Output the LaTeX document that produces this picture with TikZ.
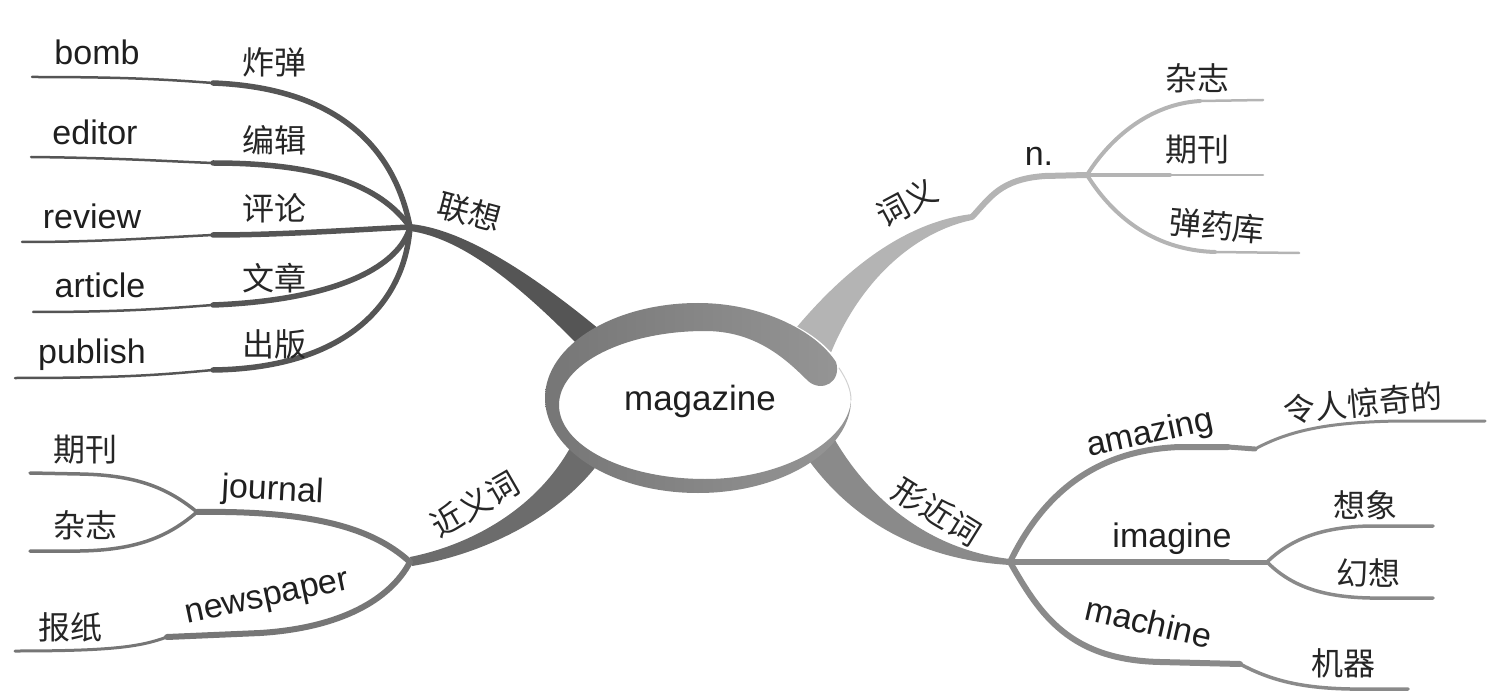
\documentclass[tikz,border=0pt]{standalone}
\usepackage{fontspec}
\setmainfont{Liberation Sans}
\newfontfamily\cjk{Noto Sans CJK SC}
\usepackage{tikz}
\usetikzlibrary{calc}
\definecolor{assocGray}{RGB}{85,85,85}
\definecolor{meanGray}{RGB}{180,180,180}
\definecolor{synGray}{RGB}{108,108,108}
\definecolor{synTwig}{RGB}{118,118,118}
\definecolor{formGray}{RGB}{138,138,138}
\definecolor{ringDark}{RGB}{118,118,118}
\definecolor{ringLight}{RGB}{150,150,150}

\begin{document}
\begin{tikzpicture}[x=1pt, y=-1pt, line cap=round,
    en/.style={font=\fontsize{34}{40}\selectfont, text=black!88},
    zh/.style={font=\cjk\fontsize{32}{38}\selectfont, text=black!85},
    twig/.style={line width=5.5},
    twigend/.style={line width=2.5}]
    \useasboundingbox (0,0) rectangle (1498,700);
    % hubs
    \coordinate (assoc) at (410,227);
    \coordinate (mean) at (972,217);
    \coordinate (noun) at (1087,175);
    \coordinate (syn) at (410,562);
    \coordinate (jour) at (197,512);
    \coordinate (form) at (1010,562);
    \coordinate (imag) at (1267,562);

    % main trunks
    \fill[assocGray] ($(assoc)+(0,-3)$) .. controls (455,228) and (520,262) .. (612,340) -- (585,352) .. controls (515,280) and (460,238) .. ($(assoc)+(0,4)$) -- cycle;
    \fill[meanGray] (780,348) .. controls (840,270) and (905,222) .. ($(mean)+(0,-3)$) -- ($(mean)+(0,3)$) .. controls (915,232) and (860,280) .. (830,355) -- cycle;
    \fill[synGray] ($(syn)+(0,-5)$) .. controls (470,545) and (535,510) .. (570,448) -- (598,464) .. controls (555,520) and (480,555) .. ($(syn)+(2,4)$) -- cycle;
    \fill[formGray] (835,440) .. controls (870,500) and (930,550) .. ($(form)+(0,-3)$) -- ($(form)+(0,3)$) .. controls (920,560) and (850,520) .. (805,455) -- cycle;

    % lianxiang twigs
    \draw[assocGray, twig] (assoc) .. controls (395,150) and (340,88) .. (213,83) coordinate (bombS);
    \draw[assocGray, twigend] (bombS) .. controls (160,79) and (120,77) .. (32,77) coordinate (bombE);
    \draw[assocGray, twig] (assoc) .. controls (380,185) and (320,163) .. (213,163) coordinate (editS);
    \draw[assocGray, twigend] (editS) .. controls (160,161) and (120,158) .. (31,157) coordinate (editE);
    \draw[assocGray, twig] (assoc) .. controls (350,230) and (280,235) .. (213,235) coordinate (revS);
    \draw[assocGray, twigend] (revS) .. controls (150,238) and (100,242) .. (22,242) coordinate (revE);
    \draw[assocGray, twig] (assoc) .. controls (400,265) and (340,300) .. (213,305) coordinate (artS);
    \draw[assocGray, twigend] (artS) .. controls (160,309) and (120,312) .. (33,312) coordinate (artE);
    \draw[assocGray, twig] (assoc) .. controls (405,300) and (350,368) .. (213,370) coordinate (pubS);
    \draw[assocGray, twigend] (pubS) .. controls (160,375) and (120,378) .. (15,378) coordinate (pubE);

    % ciyi twigs
    \draw[meanGray, line width=6] (mean) .. controls (990,198) and (1000,179) .. (1045,176) -- (noun);
    \draw[meanGray, line width=4] (noun) .. controls (1110,138) and (1150,104) .. (1200,101) coordinate (zazhiS);
    \draw[meanGray, twigend] (zazhiS) -- (1263,100);
    \draw[meanGray, line width=4] (noun) -- (1170,175) coordinate (qikanS);
    \draw[meanGray, twigend] (qikanS) -- (1263,175);
    \draw[meanGray, line width=4] (noun) .. controls (1110,212) and (1150,250) .. (1215,252) coordinate (dankuS);
    \draw[meanGray, twigend] (dankuS) -- (1299,253);

    % jinyici twigs
    \draw[synTwig, line width=6] (syn) .. controls (380,535) and (330,510) .. (jour);
    \draw[synTwig, line width=3.5] (jour) .. controls (170,490) and (140,475) .. (80,474) -- (30,473);
    \draw[synTwig, line width=3.5] (jour) .. controls (170,535) and (140,550) .. (80,551) -- (30,551);
    \draw[synTwig, line width=6] (syn) .. controls (390,600) and (340,628) .. (260,633) -- (167,637) coordinate (newsS);
    \draw[synTwig, line width=3] (newsS) .. controls (140,647) and (110,651) .. (15,651);

    % xingjinci twigs
    \draw[formGray, line width=6] (form) .. controls (1040,500) and (1090,450) .. (1180,447) -- (1228,447) coordinate (amazS);
    \draw[formGray, line width=5] (amazS) -- (1255,449) coordinate (amazT);
    \draw[formGray, line width=3] (amazT) .. controls (1290,430) and (1330,422) .. (1400,421) -- (1485,421);
    \draw[formGray, line width=6] (form) -- (1228,562) coordinate (imagS);
    \draw[formGray, line width=5] (imagS) -- (imag);
    \draw[formGray, line width=3.5] (imag) .. controls (1290,540) and (1320,527) .. (1370,526) -- (1433,526);
    \draw[formGray, line width=3.5] (imag) .. controls (1290,585) and (1320,597) .. (1370,598) -- (1433,598);
    \draw[formGray, line width=6] (form) .. controls (1040,615) and (1070,660) .. (1160,662) -- (1240,664) coordinate (machS);
    \draw[formGray, line width=3.5] (machS) .. controls (1270,680) and (1300,688) .. (1350,689) -- (1408,689);

    % centre ring
    \fill[white] (698,398) ellipse [x radius=152pt, y radius=94pt];
    \shade[left color=ringDark, right color=ringLight] (698,303) .. controls (613.5,303) and (545,345.6) .. (545,398)
        .. controls (545,450.4) and (613.5,493) .. (698,493)
        .. controls (782.5,493) and (851,450) .. (851,400)
        .. controls (849,440) and (785,479) .. (705,479)
        .. controls (624.4,479) and (559,445.8) .. (559,405)
        .. controls (559,364.2) and (624.4,331) .. (705,331)
        .. controls (755,331) and (785,358) .. (808,381)
        .. controls (822,393) and (842,382) .. (836,362)
        .. controls (815,330) and (760,303) .. (698,303) -- cycle;
    \draw[black!18, line width=1] (839,368) .. controls (847,380) and (851,390) .. (851,400);
    \node[en, anchor=base, font=\fontsize{35}{40}\selectfont] (mag) at (700,410) {magazine};

    % labels
    \node[zh, rotate=-15] (lianxiang) at (470,212) {联想};
    \node[en, anchor=base] (bomb) at (97,65) {bomb};
    \node[en, anchor=base] (editor) at (95,145) {editor};
    \node[en, anchor=base] (review) at (92,229) {review};
    \node[en, anchor=base] (article) at (100,298) {article};
    \node[en, anchor=base] (publish) at (92,363) {publish};
    \node[zh] (zhadan) at (274,62) {炸弹};
    \node[zh] (bianji) at (274,140) {编辑};
    \node[zh] (pinglun) at (274,208) {评论};
    \node[zh] (wenzhang) at (274,278) {文章};
    \node[zh] (chuban) at (274,344) {出版};

    \node[zh, rotate=28] (ciyi) at (907,203) {词义};
    \node[en, anchor=base] (n) at (1039,166) {n.};
    \node[zh] (zazhiA) at (1197,78) {杂志};
    \node[zh] (qikanA) at (1197,150) {期刊};
    \node[zh, rotate=-5] (danyaoku) at (1217,226) {弹药库};

    \node[zh, rotate=30] (jinyici) at (475,504) {近义词};
    \node[en, anchor=base, rotate=-3] (journal) at (272,500) {journal};
    \node[en, anchor=base, rotate=12] (newspaper) at (269,606) {newspaper};
    \node[zh] (qikanB) at (85,450) {期刊};
    \node[zh] (zazhiB) at (85,525) {杂志};
    \node[zh] (baozhi) at (70,627) {报纸};

    \node[zh, rotate=-32] (xingjinci) at (937,512) {形近词};
    \node[en, anchor=base, rotate=12] (amazing) at (1152,443) {amazing};
    \node[zh, rotate=5] (jingqi) at (1363,403) {令人惊奇的};
    \node[en, anchor=base] (imagine) at (1172,547) {imagine};
    \node[zh] (xiangxiang) at (1365,505) {想象};
    \node[zh] (huanxiang) at (1368,573) {幻想};
    \node[en, anchor=base, rotate=-13] (machine) at (1146,634) {machine};
    \node[zh] (jiqi) at (1343,663) {机器};
\end{tikzpicture}
\end{document}
